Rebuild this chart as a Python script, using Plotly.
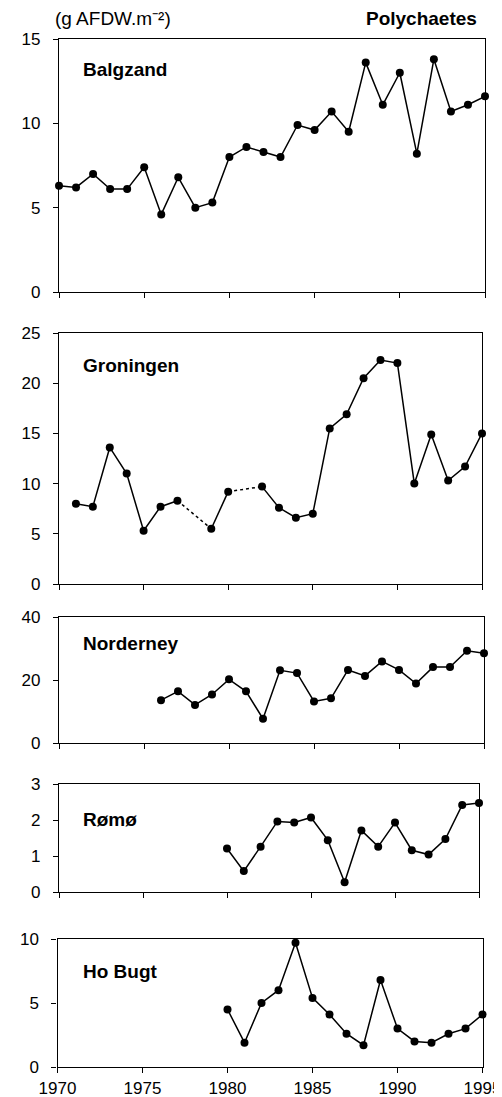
import plotly.graph_objects as go

# ---------------- data ----------------
balgzand_years = list(range(1970, 1996))
balgzand_vals = [6.3, 6.2, 7.0, 6.1, 6.1, 7.4, 4.6, 6.8, 5.0, 5.3,
                 8.0, 8.6, 8.3, 8.0, 9.9, 9.6, 10.7, 9.5, 13.6, 11.1,
                 13.0, 8.2, 13.8, 10.7, 11.1, 11.6]

groningen_years = [1971, 1972, 1973, 1974, 1975, 1976, 1977, 1978, 1979, 1980,
                   1981, 1982, 1983, 1984, 1985, 1986, 1987, 1988, 1989, 1990,
                   1991, 1992, 1993, 1994, 1995]
groningen_vals = [8.0, 7.7, 13.6, 11.0, 5.3, 7.7, 8.3, None, 5.5, 9.2,
                  None, 9.7, 7.6, 6.6, 7.0, 15.5, 16.9, 20.5, 22.3, 22.0,
                  10.0, 14.9, 10.3, 11.7, 15.0]

norderney_years = list(range(1976, 1996))
norderney_vals = [13.6, 16.4, 12.1, 15.4, 20.2, 16.4, 7.7, 23.1, 22.2, 13.2,
                  14.2, 23.2, 21.3, 25.9, 23.2, 18.9, 24.1, 24.1, 29.3, 28.5]

romo_years = list(range(1980, 1996))
romo_vals = [1.21, 0.58, 1.26, 1.96, 1.93, 2.07, 1.44, 0.27, 1.71, 1.26,
             1.93, 1.16, 1.04, 1.47, 2.42, 2.47]

hobugt_years = list(range(1980, 1996))
hobugt_vals = [4.5, 1.9, 5.0, 6.0, 9.7, 5.4, 4.1, 2.6, 1.7, 6.8,
               3.0, 2.0, 1.9, 2.6, 3.0, 4.1]

panel_names = ["Balgzand", "Groningen", "Norderney", "Rømø", "Ho Bugt"]
y_ranges = [[0, 15], [0, 25], [0, 40], [0, 3], [0, 10]]
y_ticks = [[0, 5, 10, 15], [0, 5, 10, 15, 20, 25], [0, 20, 40], [0, 1, 2, 3], [0, 5, 10]]
x_ticks = [1970, 1975, 1980, 1985, 1990, 1995]

series = [(balgzand_years, balgzand_vals), (groningen_years, groningen_vals),
          (norderney_years, norderney_vals), (romo_years, romo_vals),
          (hobugt_years, hobugt_vals)]

# ---------------- layout geometry ----------------
# page body has an 8px margin, so the figure starts at (8, 8) in the window
OFF = 8
W, H = 494, 1089


def px(xp):
    return (xp - OFF) / W


def py(yp):
    return 1 - (yp - OFF) / H


# panel boxes in window pixels: (left, right, top, bottom)
boxes = [(59, 485, 39, 292), (59, 482, 333, 584), (59, 484, 617, 743),
         (59, 479, 784, 892), (57.5, 482.5, 939, 1067)]
label_ys = [69, 365, 643, 820, 971]

FONT = "Liberation Sans, Arial, Helvetica, sans-serif"

fig = go.Figure()
layout = dict(width=W, height=H, margin=dict(l=0, r=0, t=0, b=0, autoexpand=False),
              paper_bgcolor="white", plot_bgcolor="white", showlegend=False,
              font=dict(family=FONT, color="black"))
annotations = []

for i, ((yrs, vals), name, yr, yt, box) in enumerate(zip(series, panel_names, y_ranges, y_ticks, boxes)):
    n = i + 1
    xa = "x" if n == 1 else f"x{n}"
    ya = "y" if n == 1 else f"y{n}"
    l, r, t, b = box
    layout["xaxis" if n == 1 else f"xaxis{n}"] = dict(
        domain=[px(l), px(r)], anchor=ya, range=[1970, 1995], automargin=False,
        tickvals=x_ticks, ticks="outside", ticklen=5, tickwidth=1.2, tickcolor="black",
        showticklabels=(n == 5), ticklabelstandoff=0,
        tickfont=dict(size=17, family=FONT, color="black"),
        showline=True, linecolor="black", linewidth=1.3, mirror=True,
        showgrid=False, zeroline=False, fixedrange=True)
    layout["yaxis" if n == 1 else f"yaxis{n}"] = dict(
        domain=[py(b), py(t)], anchor=xa, range=yr, automargin=False,
        tickvals=yt, ticks="outside", ticklen=5, tickwidth=1.2, tickcolor="black",
        ticklabelstandoff=9,
        tickfont=dict(size=17, family=FONT, color="black"),
        showline=True, linecolor="black", linewidth=1.3, mirror=True,
        showgrid=False, zeroline=False, fixedrange=True)

    # solid line with markers (gaps where None)
    fig.add_trace(go.Scatter(
        x=yrs, y=vals, xaxis=xa, yaxis=ya, mode="lines+markers",
        line=dict(color="black", width=1.5), connectgaps=False,
        marker=dict(color="black", size=8), cliponaxis=False, hoverinfo="skip"))

    # dashed bridges across missing years
    for j, v in enumerate(vals):
        if v is None and 0 < j < len(vals) - 1:
            fig.add_trace(go.Scatter(
                x=[yrs[j - 1], yrs[j + 1]], y=[vals[j - 1], vals[j + 1]],
                xaxis=xa, yaxis=ya, mode="lines",
                line=dict(color="black", width=1.5, dash="3px,3px"),
                cliponaxis=False, hoverinfo="skip"))

    annotations.append(dict(
        text=f"<b>{name}</b>", xref="paper", yref="paper",
        x=px(81), y=py(label_ys[i]), xanchor="left", yanchor="middle",
        showarrow=False, font=dict(size=19, family=FONT, color="black")))

annotations.append(dict(
    text="(g AFDW.m⁻²)", xref="paper", yref="paper",
    x=px(53), y=py(19), xanchor="left", yanchor="middle",
    showarrow=False, font=dict(size=19, family=FONT, color="black")))
annotations.append(dict(
    text="<b>Polychaetes</b>", xref="paper", yref="paper",
    x=px(479), y=py(19), xanchor="right", yanchor="middle",
    showarrow=False, font=dict(size=19, family=FONT, color="black")))

layout["annotations"] = annotations
fig.update_layout(**layout)
fig.write_html("out.html")
